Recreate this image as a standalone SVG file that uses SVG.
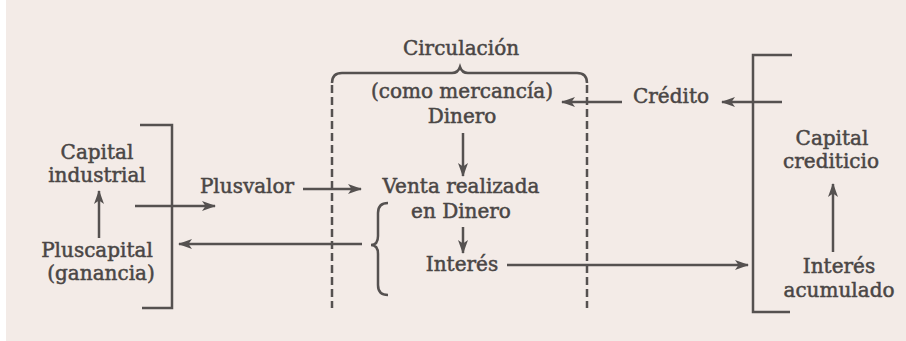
<svg xmlns="http://www.w3.org/2000/svg" width="906" height="341" viewBox="0 0 906 341">
<defs>
<style>
.t{font-family:"DejaVu Serif","Liberation Serif",serif;font-size:20px;fill:#4a4645;stroke:#4a4645;stroke-width:0.5;text-anchor:middle}
.ln{fill:none;stroke:#555150;stroke-width:2.5}
.ds{fill:none;stroke:#555150;stroke-width:2.5;stroke-dasharray:8 4}
.ar{fill:none;stroke:#555150;stroke-width:2.5;marker-end:url(#ah)}
</style>
<marker id="ah" viewBox="0 0 14 10" refX="13" refY="5" markerWidth="14" markerHeight="10" markerUnits="userSpaceOnUse" orient="auto">
<path d="M0,0 L14,5 L0,10 L3.5,5 Z" fill="#555150"/>
</marker>
</defs>
<rect x="0" y="0" width="906" height="341" fill="#ffffff"/>
<rect x="6" y="0" width="900" height="341" fill="#f3ebe7"/>

<g id="circulacion">
<text class="t" x="461" y="55">Circulación</text>
<path class="ln" d="M332,83 Q332,73 342,73 L452,73 Q458,73 460,67 Q462,73 468,73 L577,73 Q587,73 587,83"/>
<path class="ds" d="M332,85 L332,308"/>
<path class="ds" d="M587,85 L587,308"/>
</g>

<g id="dinero">
<text class="t" x="462" y="98">(como mercancía)</text>
<text class="t" x="462" y="123">Dinero</text>
</g>

<g id="venta">
<text class="t" x="461" y="193">Venta realizada</text>
<text class="t" x="461" y="218">en Dinero</text>
<path class="ln" d="M388,203 Q378,203 378,213 L378,236 Q378,245 371,245 Q378,245 378,254 L378,285 Q378,295 388,295"/>
</g>

<g id="interes">
<text class="t" x="462" y="271">Interés</text>
</g>

<g id="capital-industrial">
<text class="t" x="97" y="159">Capital</text>
<text class="t" x="97" y="182">industrial</text>
</g>

<g id="pluscapital">
<text class="t" x="97" y="257">Pluscapital</text>
<text class="t" x="101" y="280">(ganancia)</text>
</g>

<g id="bracket-left">
<path class="ln" d="M140,125 L172,125 L172,308 L142,308"/>
</g>

<g id="plusvalor">
<text class="t" x="247" y="193">Plusvalor</text>
</g>

<g id="credito">
<text class="t" x="671" y="103">Crédito</text>
</g>

<g id="capital-crediticio">
<text class="t" x="832" y="145">Capital</text>
<text class="t" x="831" y="168">crediticio</text>
</g>

<g id="interes-acumulado">
<text class="t" x="839" y="273">Interés</text>
<text class="t" x="839" y="297">acumulado</text>
</g>

<g id="bracket-right">
<path class="ln" d="M792,55 L753,55 L753,312 L790,312"/>
</g>

<g id="connectors">
<line class="ar" x1="99" y1="238" x2="99" y2="191"/>
<line class="ar" x1="135" y1="206" x2="215" y2="206"/>
<line class="ar" x1="303" y1="189" x2="361" y2="189"/>
<line class="ar" x1="362" y1="244" x2="179" y2="244"/>
<line class="ar" x1="463" y1="133" x2="463" y2="176"/>
<line class="ar" x1="463" y1="227" x2="463" y2="253"/>
<line class="ar" x1="507" y1="265" x2="748" y2="265"/>
<line class="ar" x1="622" y1="102" x2="562" y2="102"/>
<line class="ar" x1="782" y1="102" x2="722" y2="102"/>
<line class="ar" x1="833" y1="252" x2="833" y2="184"/>
</g>
</svg>
